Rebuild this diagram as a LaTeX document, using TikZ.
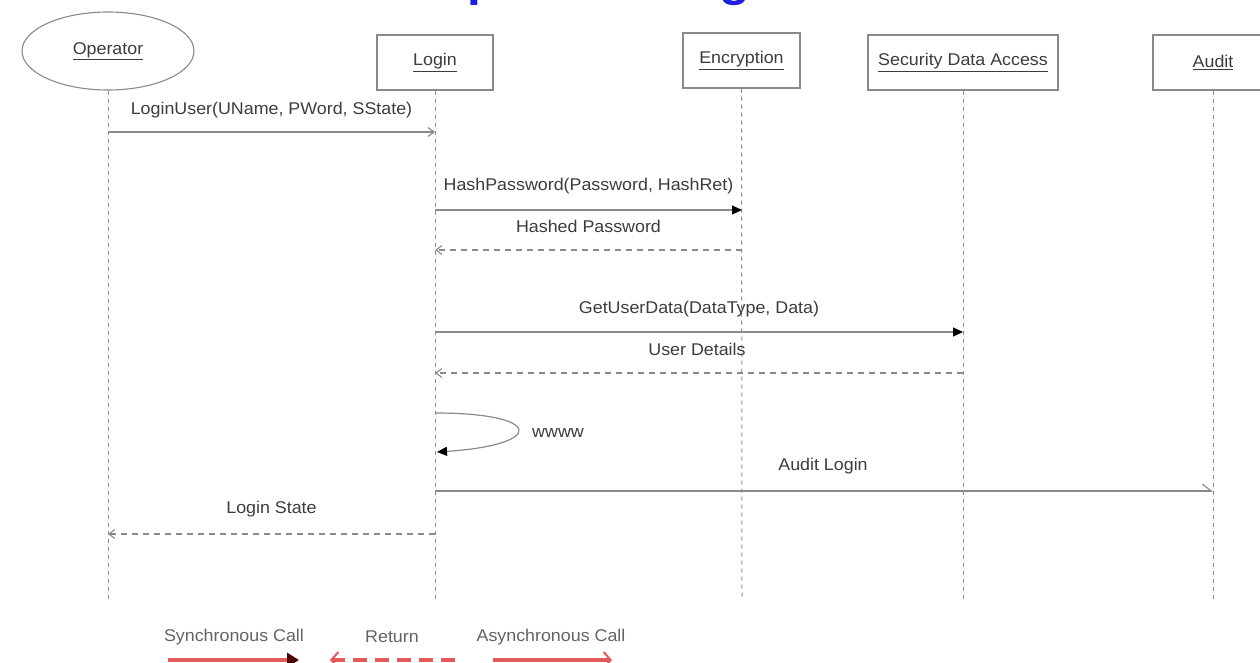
\documentclass[tikz,border=0pt]{standalone}
\usepackage{fontspec}
\setmainfont[FakeStretch=1.05]{Liberation Sans}
\usetikzlibrary{arrows.meta,shapes.geometric}
\definecolor{ln}{HTML}{8A8A8A}
\definecolor{tx}{HTML}{3C3C3C}
\definecolor{ttl}{HTML}{1F1FE0}
\definecolor{lg}{HTML}{E25A5A}
\begin{document}
\begin{tikzpicture}[x=1pt,y=-1pt,
  lbl/.style={font=\fontsize{17}{19}\selectfont, text=tx, inner sep=0pt},
  obj/.style={draw=ln, line width=1.1pt, fill=white, minimum height=55pt,
    font=\fontsize{17}{19}\selectfont, text=tx, inner sep=0pt},
  life/.style={draw=ln, line width=1pt, dash pattern=on 4pt off 4pt},
  msg/.style={draw=ln, line width=1.2pt},
  ret/.style={draw=ln, line width=1.1pt, dash pattern=on 6pt off 5pt},
  opentip/.style={-{Straight Barb[length=6pt,width=9pt]}},
  filltip/.style={-{Triangle[length=10pt,width=9pt,color=black]}},
  halftip/.style={-{Straight Barb[left,length=9pt,width=14pt]}},
  leg/.style={draw=lg, line width=4pt},
]
\clip (0,0) rectangle (1260,663);
% title (cut off at top)
\node[font=\fontsize{48}{50}\selectfont\bfseries, text=ttl, anchor=base, inner sep=0pt] (title) at (616,-4) {Sequence Diagram};
% lifelines
\coordinate (opE) at (108,600);
\coordinate (loE) at (435,600);
\coordinate (enE) at (742,600);
\coordinate (sdE) at (963,600);
\coordinate (auE) at (1213,600);
\node[obj, ellipse, minimum width=172pt, minimum height=78pt] (op) at (108,51) {\underline{Operator}};
\node[obj, minimum width=116pt] (lo) at (435,62.5) {\underline{Login}};
\node[obj, minimum width=117pt] (en) at (741.5,60.5) {\underline{Encryption}};
\node[obj, minimum width=190pt] (sd) at (963,62.5) {\underline{Security Data Access}};
\node[obj, minimum width=120pt] (au) at (1213,62.5) {\underline{Audit}};
\draw[life] (op.south) -- (opE);
\draw[life] (lo.south) -- (loE);
\draw[life] (en.south) -- (enE);
\draw[life] (sd.south) -- (sdE);
\draw[life] (au.south) -- (auE);
% message points
\coordinate (m1a) at (108,132); \coordinate (m1b) at (435,132);
\coordinate (m2a) at (435,210); \coordinate (m2b) at (742,210);
\coordinate (r2a) at (742,250); \coordinate (r2b) at (435,250);
\coordinate (m3a) at (435,332); \coordinate (m3b) at (963,332);
\coordinate (r3a) at (963,373); \coordinate (r3b) at (435,373);
\coordinate (s1) at (435,413); \coordinate (s2) at (437,452);
\coordinate (m5a) at (435,491); \coordinate (m5b) at (1213,491);
\coordinate (r6a) at (435,534); \coordinate (r6b) at (108,534);
% messages
\draw[msg, opentip] (m1a) -- (m1b);
\node[lbl] (l1) at (271.5,110) {LoginUser(UName, PWord, SState)};
\draw[msg, filltip] (m2a) -- (m2b);
\node[lbl] (l2) at (588.5,186) {HashPassword(Password, HashRet)};
\draw[ret, opentip] (r2a) -- (r2b);
\node[lbl] (l3) at (588.5,226) {Hashed Password};
\draw[msg, filltip] (m3a) -- (m3b);
\node[lbl] (l4) at (699,309) {GetUserData(DataType, Data)};
\draw[ret, opentip] (r3a) -- (r3b);
\node[lbl] (l5) at (697,349) {User Details};
\draw[msg, filltip] (s1) .. controls (545,413) and (545,445) .. (s2);
\node[lbl] (l6) at (558,433) {wwww};
\draw[msg, halftip] (m5a) -- (m5b);
\node[lbl] (l7) at (823,466) {Audit Login};
\draw[ret, opentip] (r6a) -- (r6b);
\node[lbl] (l8) at (271.5,509) {Login State};
% legend
\node[lbl, text=tx!80] (g1) at (234,637) {Synchronous Call};
\node[lbl, text=tx!80] (g2) at (392,637) {Return};
\node[lbl, text=tx!80] (g3) at (551,637) {Asynchronous Call};
\coordinate (g1a) at (168,660); \coordinate (g1b) at (299,660);
\coordinate (g2a) at (455,660); \coordinate (g2b) at (330,660);
\coordinate (g3a) at (493,660); \coordinate (g3b) at (612,660);
\draw[leg, -{Triangle[length=12pt,width=14pt,color=black!70!red]}] (g1a) -- (g1b);
\draw[leg, dash pattern=on 14pt off 8pt, -{Straight Barb[length=7pt,width=16pt,line width=2pt]}] (g2a) -- (g2b);
\draw[leg, -{Straight Barb[length=7pt,width=16pt,line width=2pt]}] (g3a) -- (g3b);
\end{tikzpicture}
\end{document}
